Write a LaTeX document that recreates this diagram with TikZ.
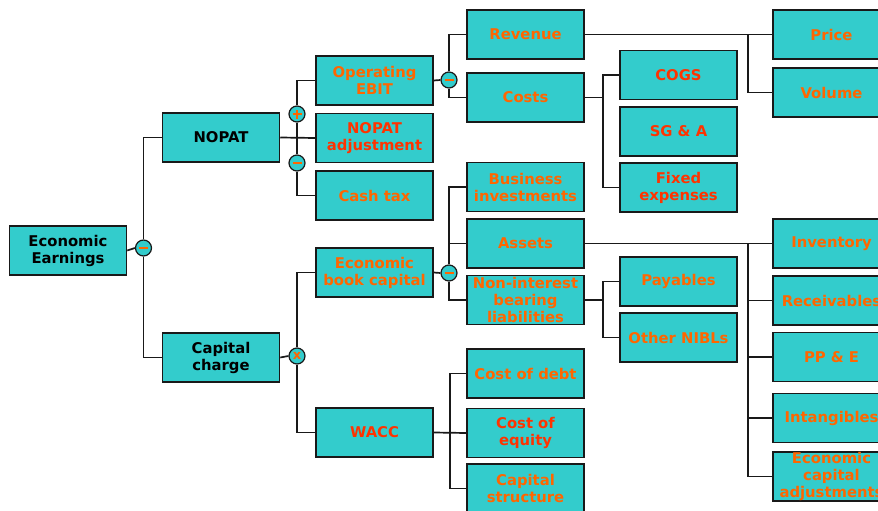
\documentclass[tikz,border=0pt]{standalone}
\usepackage{fontspec}
\setmainfont{DejaVu Sans}
\usetikzlibrary{backgrounds}
\definecolor{tealf}{HTML}{33CCCC}
\definecolor{ora}{HTML}{FF6600}
\definecolor{redo}{HTML}{FF3300}
\tikzset{
 box/.style={draw=black!90, line width=1.5pt, fill=tealf, minimum width=117pt, minimum height=49pt, inner sep=0pt, align=center, font=\fontsize{14.8}{17}\selectfont\bfseries},
 bk/.style={box, text=black},
 ob/.style={box, text=ora},
 rb/.style={box, text=redo},
 opc/.style={circle, draw=black!90, line width=1.2pt, fill=tealf, minimum size=16pt, inner sep=0pt, text=ora, font=\fontsize{13}{13}\selectfont\bfseries},
 conn/.style={line width=1.7pt, draw=black!90},
 sym/.style={draw=ora, line width=2.4pt},
}
\begin{document}
\begin{tikzpicture}[x=1pt,y=-1pt]
\useasboundingbox (0,0) rectangle (878,511);
\clip (0,0) rectangle (878,511);
% level 1
\node[bk] (ee) at (68,250.5) {Economic\\Earnings};
\node[bk] (nopat) at (221,137.5) {NOPAT};
\node[bk] (cc) at (221,357.5) {Capital\\charge};
% level 2
\node[ob] (opebit) at (374.5,80.5) {Operating\\EBIT};
\node[rb] (nadj) at (374.5,138) {NOPAT\\adjustment};
\node[ob] (cashtax) at (374.5,195.5) {Cash tax};
\node[ob] (ebc) at (374.5,272.5) {Economic\\book capital};
\node[rb] (wacc) at (374.5,432.5) {WACC};
% level 3
\node[ob] (revenue) at (525.5,34.5) {Revenue};
\node[ob] (costs) at (525.5,97.5) {Costs};
\node[ob] (bi) at (525.5,187) {Business\\investments};
\node[ob] (assets) at (525.5,243.5) {Assets};
\node[ob] (nibl) at (525.5,300) {Non-interest\\bearing\\liabilities};
\node[ob] (cod) at (525.5,373.5) {Cost of debt};
\node[rb] (coe) at (525.5,433) {Cost of\\equity};
\node[ob] (cs) at (525.5,488.5) {Capital\\structure};
% level 4
\node[rb] (cogs) at (678.5,75) {COGS};
\node[rb] (sga) at (678.5,131.5) {SG \& A};
\node[rb] (fixed) at (678.5,187.5) {Fixed\\expenses};
\node[ob] (payables) at (678.5,281.5) {Payables};
\node[ob] (onibl) at (678.5,337.5) {Other NIBLs};
% level 5
\node[ob] (price) at (831.5,34.5) {Price};
\node[ob] (volume) at (831.5,92.5) {Volume};
\node[ob] (inventory) at (831.5,243.5) {Inventory};
\node[ob] (receivables) at (831.5,300.5) {Receivables};
\node[ob] (ppe) at (831.5,357) {PP \& E};
\node[ob] (intangibles) at (831.5,418) {Intangibles};
\node[ob] (eca) at (831.5,476.5) {Economic\\capital\\adjustments};
% operator circles
\node[opc] (m1) at (143.5,248) {};
\node[opc] (p1) at (297,114) {};
\node[opc] (m2) at (297,163) {};
\node[opc] (x1) at (297,356) {x};
\node[opc] (m3) at (449,80) {};
\node[opc] (m4) at (449,273) {};
% junctions
\coordinate (j1) at (450,432.5);
\coordinate (j2) at (603,97.5);
\coordinate (j3) at (748,34.5);
\coordinate (j4) at (748,243.5);
\coordinate (j5) at (603,300);
\begin{pgfonlayer}{background}
\draw[conn] (ee.east) -- (m1.west);
\draw[conn] (nopat.west) -| (m1.north);
\draw[conn] (cc.west) -| (m1.south);
\draw[conn] (opebit.west) -| (p1.north);
\draw[conn] (p1.south) -- (m2.north);
\draw[conn] (m2.south) |- (cashtax.west);
\draw[conn] (nopat.east) -- (nadj.west);
\draw[conn] (cc.east) -- (x1.west);
\draw[conn] (ebc.west) -| (x1.north);
\draw[conn] (wacc.west) -| (x1.south);
\draw[conn] (opebit.east) -- (m3.west);
\draw[conn] (revenue.west) -| (m3.north);
\draw[conn] (costs.west) -| (m3.south);
\draw[conn] (ebc.east) -- (m4.west);
\draw[conn] (bi.west) -| (m4.north);
\draw[conn] (assets.west) -- (assets.west -| m4.center);
\draw[conn] (nibl.west) -| (m4.south);
\draw[conn] (wacc.east) -- (coe.west);
\draw[conn] (cod.west) -| (j1) |- (cs.west);
\draw[conn] (costs.east) -- (j2);
\draw[conn] (cogs.west) -| (j2) |- (fixed.west);
\draw[conn] (revenue.east) -- (price.west);
\draw[conn] (j3) |- (volume.west);
\draw[conn] (assets.east) -- (inventory.west);
\draw[conn] (j4) |- (eca.west);
\draw[conn] (j4 |- receivables.west) -- (receivables.west);
\draw[conn] (j4 |- ppe.west) -- (ppe.west);
\draw[conn] (j4 |- intangibles.west) -- (intangibles.west);
\draw[conn] (nibl.east) -- (j5);
\draw[conn] (payables.west) -| (j5) |- (onibl.west);
\end{pgfonlayer}
% symbols
\foreach \c in {m1,m2,m3,m4,p1}{
  \draw[sym] ([xshift=-4.5pt]\c.center) -- ([xshift=4.5pt]\c.center);
}
\draw[sym] ([yshift=-4.5pt]p1.center) -- ([yshift=4.5pt]p1.center);
\end{tikzpicture}
\end{document}
